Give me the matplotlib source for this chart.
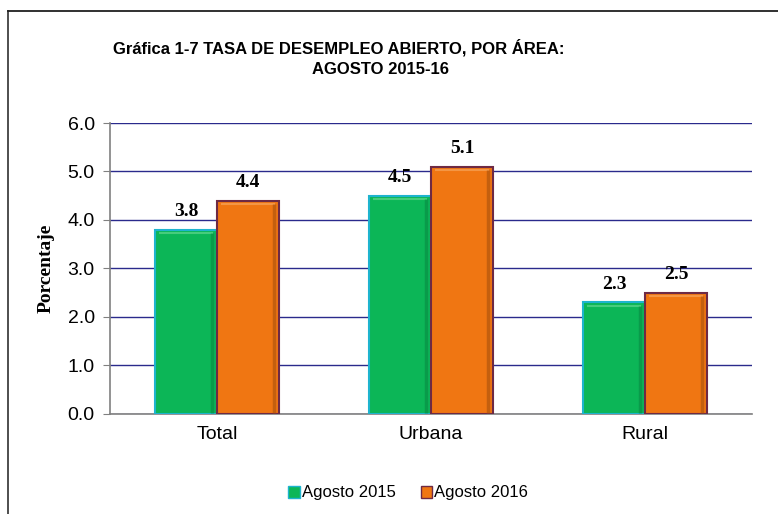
import matplotlib.pyplot as plt
import numpy as np
from matplotlib.lines import Line2D
from matplotlib.patches import Patch

# data
categories = ["Total", "Urbana", "Rural"]
agosto_2015 = [3.8, 4.5, 2.3]
agosto_2016 = [4.4, 5.1, 2.5]
series_names = ["Agosto 2015", "Agosto 2016"]
yticks = [0.0, 1.0, 2.0, 3.0, 4.0, 5.0, 6.0]

plt.rcParams['font.family'] = ['Liberation Sans', 'DejaVu Sans']

fig = plt.figure(figsize=(7.78, 5.14), dpi=100)
ax = fig.add_axes([0.1414, 0.1946, 0.8252, 0.5661])

# outer frame (left and top lines of the chart area)
fig.add_artist(Line2D([8 / 778, 8 / 778], [0, 1 - 11 / 514], color='#404040', lw=1.3,
                      transform=fig.transFigure))
fig.add_artist(Line2D([8 / 778, 1], [1 - 11 / 514, 1 - 11 / 514], color='#202020', lw=1.3,
                      transform=fig.transFigure))

x = np.arange(len(categories))
w = 0.29
green, green_edge = '#0CB657', '#1EB4CE'
orange, orange_edge = '#F07612', '#6E2A44'

b1 = ax.bar(x - w / 2, agosto_2015, w, color=green, edgecolor=green_edge, lw=1.5, zorder=3)
b2 = ax.bar(x + w / 2, agosto_2016, w, color=orange, edgecolor=orange_edge, lw=1.5, zorder=3)

# simple bevel highlight/shadow
for bars, light, dark in [(b1, '#5fd68c', '#078a42'), (b2, '#f7a55a', '#a8500c')]:
    for r in bars:
        x0, h, bw = r.get_x(), r.get_height(), r.get_width()
        ax.plot([x0 + 0.02, x0 + bw - 0.02], [h - 0.07, h - 0.07], color=light, lw=1.5,
                alpha=0.7, zorder=4, solid_capstyle='butt')
        ax.plot([x0 + bw - 0.025, x0 + bw - 0.025], [0.02, h - 0.07], color=dark, lw=2.5,
                alpha=0.6, zorder=4, solid_capstyle='butt')

for bars, vals in [(b1, agosto_2015), (b2, agosto_2016)]:
    for r, v in zip(bars, vals):
        ax.annotate(f"{v:.1f}", (r.get_x() + r.get_width() / 2, v), xytext=(0, 7),
                    textcoords='offset points', ha='center', va='bottom',
                    fontsize=14, fontweight='bold', family='Liberation Serif')

ax.set_xlim(-0.5, 2.5)
ax.set_ylim(0, 6)
ax.set_yticks(yticks)
ax.set_yticklabels([f"{t:.1f}" for t in yticks], fontsize=14)
ax.set_xticks(x)
ax.set_xticklabels(categories, fontsize=14)
ax.tick_params(axis='x', length=0, pad=9)
ax.tick_params(axis='y', length=5, color='#808080', pad=6)
ax.yaxis.grid(True, color='#2a2a8c', lw=1.0, zorder=0)
ax.set_axisbelow(True)
for s in ['top', 'right']:
    ax.spines[s].set_visible(False)
for s in ['left', 'bottom']:
    ax.spines[s].set_color('#808080')
    ax.spines[s].set_linewidth(1.2)

ax.set_ylabel("Porcentaje", family='Liberation Serif', fontweight='bold', fontsize=14,
              labelpad=9)

fig.text(339 / 778, 1 - 48 / 514, "Gráfica 1-7 TASA DE DESEMPLEO ABIERTO, POR ÁREA:",
         ha='center', va='center', fontsize=12, fontweight='bold')
fig.text(380 / 778, 1 - 70 / 514, "AGOSTO 2015-16",
         ha='center', va='center', fontsize=12, fontweight='bold')

handles = [Patch(facecolor=green, edgecolor=green_edge), Patch(facecolor=orange, edgecolor=orange_edge)]
fig.legend(handles, series_names, loc='center', bbox_to_anchor=(408 / 778, 1 - 493 / 514),
           ncol=2, frameon=False, fontsize=12, handlelength=0.7, handleheight=0.7,
           handletextpad=0.1, columnspacing=1.5)

fig.savefig("out.png", dpi=100)
